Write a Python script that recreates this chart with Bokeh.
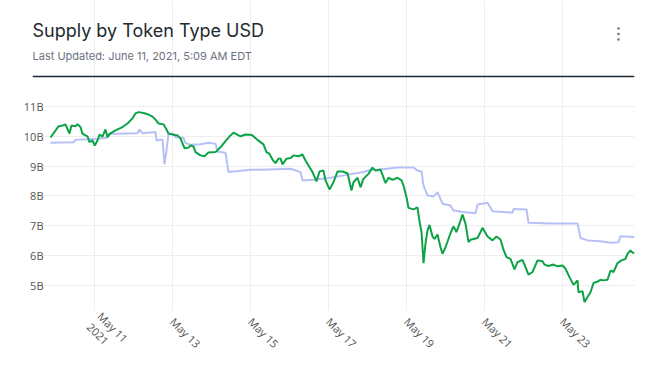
import math
from bokeh.plotting import figure
from bokeh.models import Range1d, FixedTicker
from bokeh.core.properties import value
from bokeh.embed import file_html
from bokeh.resources import INLINE

title_text = "Supply by Token Type USD"
subtitle_text = "Last Updated: June 11, 2021, 5:09 AM EDT"

# time as day of May 2021 (fractional), values in billions USD
green_day = [9.872, 10.077, 10.205, 10.256, 10.359, 10.410, 10.513, 10.564, 10.641, 10.692,
             10.769, 10.821, 10.872, 10.949, 11.008, 11.077, 11.128, 11.205, 11.282, 11.333,
             11.410, 11.538, 11.718, 11.846, 11.974, 12.051, 12.128, 12.256, 12.385, 12.487,
             12.564, 12.641, 12.769, 12.846, 12.897, 13.000, 13.128, 13.205, 13.308, 13.410,
             13.462, 13.538, 13.590, 13.718, 13.821, 13.923, 14.103, 14.231, 14.359, 14.487,
             14.564, 14.744, 14.872, 15.000, 15.051, 15.179, 15.333, 15.410, 15.487, 15.564,
             15.641, 15.718, 15.769, 15.821, 15.923, 16.026, 16.103, 16.231, 16.333, 16.410,
             16.487, 16.590, 16.692, 16.769, 16.872, 16.923, 17.026, 17.128, 17.231, 17.359,
             17.487, 17.590, 17.641, 17.744, 17.821, 17.897, 18.026, 18.128, 18.205, 18.333,
             18.462, 18.538, 18.641, 18.769, 18.872, 18.923, 19.000, 19.051, 19.179, 19.282,
             19.333, 19.385, 19.436, 19.487, 19.538, 19.590, 19.667, 19.718, 19.795, 19.872,
             19.923, 20.000, 20.128, 20.205, 20.282, 20.359, 20.436, 20.513, 20.590, 20.641,
             20.821, 20.897, 20.949, 21.077, 21.205, 21.308, 21.410, 21.487, 21.564, 21.667,
             21.769, 21.846, 21.974, 22.051, 22.128, 22.231, 22.359, 22.487, 22.538, 22.641,
             22.769, 22.872, 23.000, 23.077, 23.179, 23.282, 23.385, 23.410, 23.513, 23.564,
             23.641, 23.718, 23.795, 23.897, 23.974, 24.051, 24.154, 24.231, 24.308, 24.410,
             24.513, 24.615, 24.667, 24.744, 24.795, 24.846]
green_val = [9.96, 10.33, 10.37, 10.40, 10.09, 10.36, 10.34, 10.40, 10.31, 10.09,
             10.03, 10.00, 9.80, 9.86, 9.69, 9.86, 10.06, 9.99, 10.23, 9.97,
             10.10, 10.20, 10.31, 10.43, 10.60, 10.77, 10.81, 10.78, 10.73, 10.66,
             10.56, 10.43, 10.40, 10.23, 10.09, 10.06, 10.03, 9.93, 9.60, 9.62,
             9.69, 9.66, 9.47, 9.36, 9.33, 9.46, 9.47, 9.63, 9.84, 10.03,
             10.12, 10.00, 10.06, 10.05, 10.03, 9.88, 9.73, 9.47, 9.41, 9.22,
             9.10, 9.25, 9.26, 9.06, 9.25, 9.27, 9.36, 9.33, 9.39, 9.19,
             9.02, 8.80, 8.49, 8.82, 8.85, 8.52, 8.22, 8.46, 8.82, 8.82,
             8.76, 8.18, 8.46, 8.61, 8.29, 8.58, 8.74, 8.95, 8.85, 8.89,
             8.43, 8.61, 8.54, 8.61, 8.52, 8.35, 7.96, 7.60, 7.55, 7.62,
             7.15, 6.79, 5.75, 6.40, 6.84, 7.03, 6.64, 6.56, 6.71, 6.28,
             6.06, 6.28, 6.75, 6.98, 6.79, 7.07, 7.38, 7.07, 6.45, 6.53,
             6.59, 6.79, 6.93, 6.64, 6.51, 6.64, 6.54, 6.20, 5.95, 5.89,
             5.54, 5.78, 5.86, 5.61, 5.36, 5.45, 5.84, 5.81, 5.70, 5.65,
             5.70, 5.64, 5.67, 5.56, 5.28, 5.02, 5.17, 4.77, 4.81, 4.44,
             4.61, 4.77, 5.08, 5.13, 5.19, 5.17, 5.19, 5.50, 5.45, 5.75,
             5.84, 5.89, 6.06, 6.17, 6.10, 6.08]

blue_day = [9.872, 10.462, 10.513, 11.077, 11.308, 11.333, 12.103, 12.154, 12.231, 12.564,
            12.590, 12.744, 12.795, 12.846, 12.897, 13.026, 13.077, 13.282, 13.333, 13.462,
            13.718, 13.923, 14.103, 14.154, 14.359, 14.436, 14.564, 15.000, 15.256, 16.026,
            16.282, 16.333, 16.615, 17.051, 17.385, 17.897, 18.077, 18.333, 18.769, 19.179,
            19.282, 19.385, 19.436, 19.538, 19.692, 19.795, 19.846, 19.923, 20.128, 20.205,
            20.462, 20.769, 20.821, 21.077, 21.205, 21.718, 21.744, 22.077, 22.128, 22.692,
            23.385, 23.462, 23.641, 23.974, 24.231, 24.436, 24.487, 24.846]
blue_val = [9.78, 9.80, 9.88, 9.92, 9.94, 10.08, 10.10, 10.23, 10.10, 10.14,
            9.86, 9.89, 9.06, 9.52, 10.10, 10.08, 9.97, 9.95, 9.77, 9.72,
            9.73, 9.78, 9.75, 9.49, 9.45, 8.80, 8.82, 8.88, 8.88, 8.91,
            8.80, 8.52, 8.54, 8.61, 8.69, 8.80, 8.88, 8.89, 8.95, 8.95,
            8.85, 8.82, 8.35, 8.02, 7.98, 8.13, 7.98, 7.74, 7.68, 7.51,
            7.46, 7.42, 7.71, 7.77, 7.49, 7.44, 7.56, 7.55, 7.10, 7.08,
            7.08, 6.59, 6.51, 6.48, 6.43, 6.45, 6.65, 6.62]

x_ticks = [11, 13, 15, 17, 19, 21, 23]
x_tick_labels = ["May 11\n2021", "May 13", "May 15", "May 17", "May 19", "May 21", "May 23"]
y_ticks = [5, 6, 7, 8, 9, 10, 11]
y_tick_labels = ["5B", "6B", "7B", "8B", "9B", "10B", "11B"]

# layout geometry (page pixels): data area and the header drawn in the same frame
W, H = 669, 369
DL, DR, DT, DB = 50, 634, 100, 310      # data area
FL, FT = 32, 0                          # frame extends left/up to hold the header
Y0, Y1 = 4.16, 11.2
X0, X1 = green_day[0], green_day[-1]


def px_x(px):
    return X0 + (px - DL) / (DR - DL) * (X1 - X0)


def px_y(py):
    return Y1 - (py - DT) / (DB - DT) * (Y1 - Y0)


p = figure(width=W, height=H, output_backend="svg", toolbar_location=None,
           x_range=Range1d(px_x(FL), X1), y_range=Range1d(Y0, px_y(FT)),
           min_border_left=FL, min_border_right=W - DR, min_border_top=FT,
           min_border_bottom=H - DB)
p.outline_line_color = None

p.line(blue_day, blue_val, line_color="#b7c0f6", line_width=2)
p.line(green_day, green_val, line_color="#0ca346", line_width=2)

for ax in (p.xaxis[0], p.yaxis[0]):
    ax.axis_line_color = None
    ax.major_tick_line_color = None
    ax.minor_tick_line_color = None
    ax.major_label_text_font = "Open Sans"
    ax.major_label_text_font_size = "11px"
    ax.major_label_text_color = "#555555"

p.xaxis.ticker = FixedTicker(ticks=x_ticks)
p.xaxis.major_label_overrides = dict(zip(x_ticks, x_tick_labels))
p.xaxis.major_label_orientation = -math.pi / 4
p.xaxis.major_label_standoff = 3
p.xaxis.major_label_text_line_height = 1.0
p.yaxis.ticker = FixedTicker(ticks=y_ticks)
p.yaxis.major_label_overrides = dict(zip(y_ticks, y_tick_labels))
p.yaxis.major_label_standoff = -(DL - FL - 1)

p.xgrid.grid_line_color = "#eeeeee"
p.ygrid.grid_line_color = "#eeeeee"
p.ygrid.bounds = (X0, X1)
p.xgrid.bounds = (Y0, Y1)

# header
p.text(x=[px_x(32)], y=[px_y(30)], text=[title_text], text_font=value("Inter"),
       text_font_size=value("18px"), text_color="#24292f",
       text_baseline="middle", text_align="left")
p.text(x=[px_x(32)], y=[px_y(55)], text=[subtitle_text], text_font=value("Inter"),
       text_font_size=value("11px"), text_color="#6b7280",
       text_baseline="middle", text_align="left")
p.segment(x0=[px_x(32)], y0=[px_y(76)], x1=[px_x(634)], y1=[px_y(76)],
          line_color="#1f2933", line_width=1.3)
p.scatter(x=[px_x(618)] * 3, y=[px_y(28), px_y(33.5), px_y(39)], size=2.6,
          fill_color="#777777", line_color=None)

open("out.html", "w").write(file_html(p, INLINE))
